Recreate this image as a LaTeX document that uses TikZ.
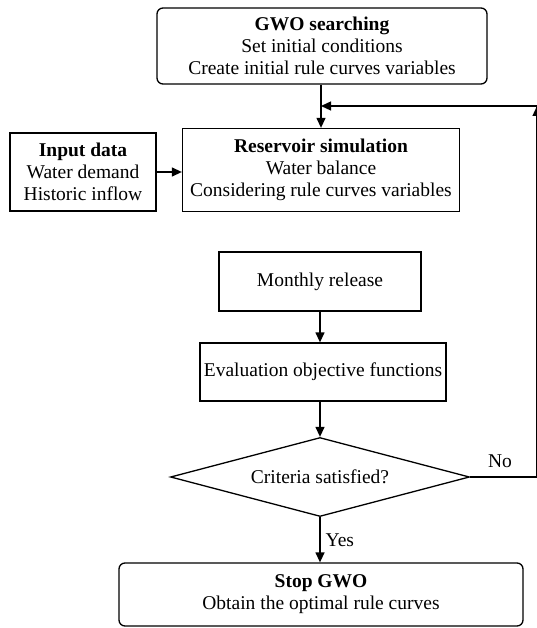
\documentclass[tikz,border=0pt]{standalone}
\usepackage{fontspec}
\setmainfont{Liberation Serif}
\usetikzlibrary{arrows.meta,shapes.geometric}
\tikzset{
  txt/.style={font=\fontsize{19.5}{22}\selectfont},
  box/.style={draw, line width=1.3pt, inner sep=0pt, align=center, txt},
  rbox/.style={box, rounded corners=6pt},
  dia/.style={draw, line width=1.3pt, diamond, inner sep=0pt, aspect=3.78, txt},
  conn/.style={line width=1.3pt, -{Triangle[length=10pt,width=9pt]}},
  lbl/.style={txt, inner sep=0pt}
}
\begin{document}
\begin{tikzpicture}[x=1pt,y=-1pt]
\useasboundingbox (0,0) rectangle (537,628);
\node[rbox, minimum width=330pt, minimum height=76pt] (gwo) at (322,46)
  {\textbf{GWO searching}\\Set initial conditions\\Create initial rule curves variables};
\node[box, minimum width=277pt, minimum height=83pt] (res) at (321,170)
  {\textbf{Reservoir simulation}\\Water balance\\Considering rule curves variables};
\node[box, minimum width=146pt, minimum height=78pt] (inp) at (83,172)
  {\textbf{Input data}\\Water demand\\Historic inflow};
\node[box, minimum width=202pt, minimum height=59pt] (mon) at (320,281.5) {Monthly release};
\node[box, minimum width=246pt, minimum height=58pt] (eva) at (323,372) {Evaluation objective functions};
\node[dia, minimum width=299pt, minimum height=79pt] (cri) at (320,477) {Criteria satisfied?};
\node[rbox, minimum width=404pt, minimum height=63pt] (stop) at (321,594.5)
  {\textbf{Stop GWO}\\Obtain the optimal rule curves};
\coordinate (c1) at (537,477);
\coordinate (c2) at (537,106);
\coordinate (c3) at (321,106);
\coordinate (c4) at (537,130);
\draw[conn] (gwo.south -| res.north) -- (res.north);
\draw[conn] (inp.east) -- (res.west |- inp.east);
\draw[conn] (mon.south) -- (mon.south |- eva.north);
\draw[conn] (eva.south -| cri.north) -- (cri.north);
\draw[conn] (cri.south) -- (cri.south |- stop.north) node[lbl, midway, right=5pt] {Yes};
\draw[line width=1.3pt] (cri.east) -- (c1) -- (c2);
\draw[conn] (c2) -- (c3);
\draw[conn] (c4) -- (c2);
\node[lbl] (no) at (500,461) {No};
\end{tikzpicture}
\end{document}
